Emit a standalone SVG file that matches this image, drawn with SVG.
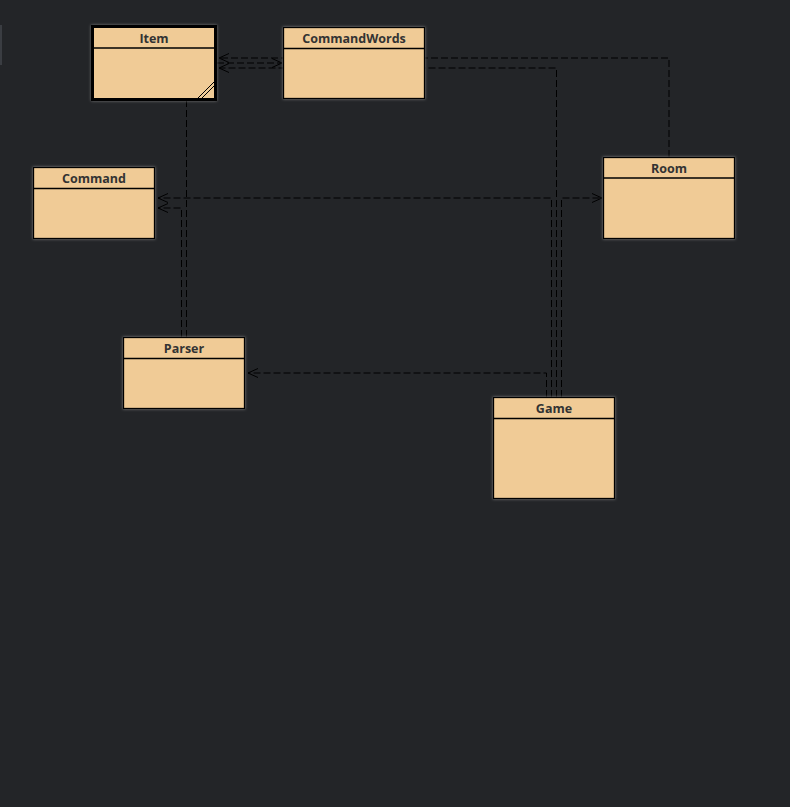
<svg xmlns="http://www.w3.org/2000/svg" width="790" height="807" viewBox="0 0 790 807">
<defs>
<marker id="arr" viewBox="0 0 10 10" refX="10" refY="5" markerWidth="10" markerHeight="10" markerUnits="userSpaceOnUse" orient="auto">
<path d="M0,0.5 L10,5 L0,9.5" fill="none" stroke="#000" stroke-width="1" stroke-dasharray="none"/>
</marker>
<filter id="sh" x="-10%" y="-10%" width="120%" height="120%">
<feDropShadow dx="0" dy="0" stdDeviation="1.5" flood-color="#9a9a9a" flood-opacity="0.7"/>
</filter>
<style>
.box{fill:#f0cb96;stroke:#000;stroke-width:1.3;filter:url(#sh)}
.thick{stroke-width:3}
.hdr{stroke:#000;stroke-width:1.3}
.t{font-family:"Open Sans","DejaVu Sans",sans-serif;font-weight:bold;font-size:12.5px;fill:#333;text-anchor:middle}
.c{fill:none;stroke:#000;stroke-width:1;stroke-dasharray:7,3}
</style>
</defs>
<rect width="790" height="807" fill="#232528"/>
<rect x="0" y="25" width="2" height="40" fill="#3a3d42"/>
<g id="connectors">
<path class="c" d="M669,157 V58 H219" marker-end="url(#arr)"/>
<path class="c" d="M217,63 H282" marker-end="url(#arr)"/>
<path class="c" d="M556.5,397 V68 H219" marker-end="url(#arr)"/>
<path class="c" d="M551.5,397 V198 H158" marker-end="url(#arr)"/>
<path class="c" d="M561.5,397 V198 H602" marker-end="url(#arr)"/>
<path class="c" d="M546.5,397 V373 H248" marker-end="url(#arr)"/>
<path class="c" d="M181.5,337 V208 H158" marker-end="url(#arr)"/>
<path class="c" d="M186.5,337 V101"/>
</g>
<g id="Item">
<rect class="box thick" x="92.5" y="26.5" width="123" height="73"/>
<line class="hdr" x1="92" y1="48" x2="215" y2="48"/>
<text class="t" x="154" y="43">Item</text>
<line x1="198" y1="98" x2="214" y2="82" stroke="#000" stroke-width="1"/>
<line x1="202" y1="98" x2="214" y2="86" stroke="#000" stroke-width="1"/>
</g>
<g id="CommandWords">
<rect class="box" x="283.5" y="27.5" width="141" height="71"/>
<line class="hdr" x1="283.5" y1="48.5" x2="424.5" y2="48.5"/>
<text class="t" x="354" y="43">CommandWords</text>
</g>
<g id="Command">
<rect class="box" x="33.5" y="167.5" width="121" height="71"/>
<line class="hdr" x1="33.5" y1="188.5" x2="154.5" y2="188.5"/>
<text class="t" x="94" y="183">Command</text>
</g>
<g id="Room">
<rect class="box" x="603.5" y="157.5" width="131" height="81"/>
<line class="hdr" x1="603.5" y1="178" x2="734.5" y2="178"/>
<text class="t" x="669" y="173">Room</text>
</g>
<g id="Parser">
<rect class="box" x="123.5" y="337.5" width="121" height="71"/>
<line class="hdr" x1="123.5" y1="358.5" x2="244.5" y2="358.5"/>
<text class="t" x="184" y="353">Parser</text>
</g>
<g id="Game">
<rect class="box" x="493.5" y="397.5" width="121" height="101"/>
<line class="hdr" x1="493.5" y1="418.5" x2="614.5" y2="418.5"/>
<text class="t" x="554" y="413">Game</text>
</g>
</svg>
